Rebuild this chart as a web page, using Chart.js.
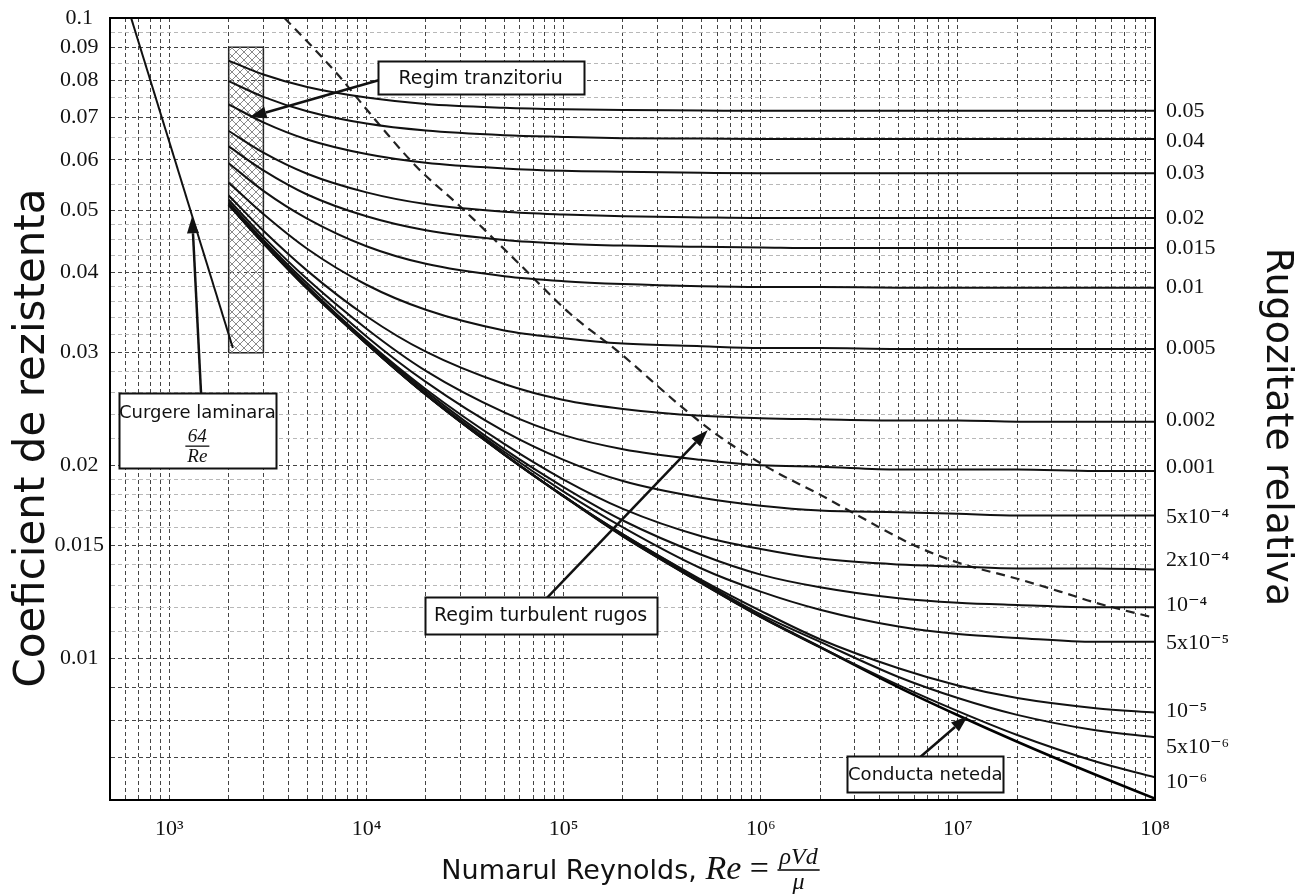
<!DOCTYPE html>
<html>
<head>
<meta charset="utf-8">
<title>Diagrama Moody</title>
<script src="https://cdn.jsdelivr.net/npm/chart.js@4.4.1/dist/chart.umd.min.js"></script>
<style>
  html, body { margin: 0; padding: 0; background: #fff; }
  #wrap { position: relative; width: 1313px; height: 896px; }
</style>
</head>
<body>
<div id="wrap"><canvas id="moody"></canvas></div>
<script>
const reynolds = [2000, 3000, 5000, 1e4, 2e4, 5e4, 1e5, 2e5, 5e5, 1e6, 2e6, 5e6, 1e7, 2e7, 5e7, 1e8];

// friction factor, one array per relative roughness
const f_0_05     = [0.0858, 0.0816, 0.0780, 0.0751, 0.0734, 0.0724, 0.0720, 0.0718, 0.0717, 0.0716, 0.0716, 0.0716, 0.0716, 0.0716, 0.0716, 0.0716];
const f_0_04     = [0.0797, 0.0753, 0.0715, 0.0684, 0.0667, 0.0656, 0.0652, 0.0649, 0.0648, 0.0647, 0.0647, 0.0647, 0.0647, 0.0647, 0.0647, 0.0647];
const f_0_03     = [0.0733, 0.0687, 0.0646, 0.0613, 0.0594, 0.0582, 0.0577, 0.0575, 0.0573, 0.0572, 0.0572, 0.0572, 0.0572, 0.0572, 0.0572, 0.0572];
const f_0_02     = [0.0666, 0.0616, 0.0571, 0.0534, 0.0512, 0.0498, 0.0493, 0.0490, 0.0488, 0.0487, 0.0487, 0.0487, 0.0487, 0.0487, 0.0487, 0.0487];
const f_0_015    = [0.0630, 0.0578, 0.0530, 0.0490, 0.0466, 0.0450, 0.0444, 0.0441, 0.0439, 0.0438, 0.0437, 0.0437, 0.0437, 0.0437, 0.0437, 0.0437];
const f_0_01     = [0.0593, 0.0537, 0.0486, 0.0440, 0.0413, 0.0395, 0.0388, 0.0384, 0.0381, 0.0380, 0.0380, 0.0379, 0.0379, 0.0379, 0.0379, 0.0379];
const f_0_005    = [0.0553, 0.0494, 0.0436, 0.0383, 0.0350, 0.0325, 0.0316, 0.0310, 0.0307, 0.0305, 0.0305, 0.0304, 0.0304, 0.0304, 0.0304, 0.0304];
const f_0_002    = [0.0528, 0.0465, 0.0403, 0.0342, 0.0301, 0.0268, 0.0253, 0.0245, 0.0239, 0.0237, 0.0236, 0.0235, 0.0235, 0.0234, 0.0234, 0.0234];
const f_0_001    = [0.0520, 0.0455, 0.0391, 0.0327, 0.0281, 0.0242, 0.0223, 0.0212, 0.0204, 0.0200, 0.0199, 0.0197, 0.0197, 0.0197, 0.0196, 0.0196];
const f_0_0005   = [0.0515, 0.0450, 0.0385, 0.0318, 0.0270, 0.0226, 0.0204, 0.0189, 0.0178, 0.0173, 0.0170, 0.0169, 0.0168, 0.0167, 0.0167, 0.0167];
const f_0_0002   = [0.0513, 0.0447, 0.0381, 0.0313, 0.0263, 0.0216, 0.0190, 0.0171, 0.0155, 0.0148, 0.0143, 0.0140, 0.0139, 0.0138, 0.0138, 0.01375];
const f_0_0001   = [0.0512, 0.0446, 0.0380, 0.0312, 0.0261, 0.0212, 0.0185, 0.0164, 0.0145, 0.0135, 0.0129, 0.0124, 0.0122, 0.0121, 0.0120, 0.0120];
const f_0_00005  = [0.0511, 0.0446, 0.0379, 0.0311, 0.0259, 0.0210, 0.0182, 0.0160, 0.0138, 0.0127, 0.0119, 0.0112, 0.0109, 0.01075, 0.0106, 0.0106];
const f_0_00001  = [0.0511, 0.0445, 0.0379, 0.0310, 0.0258, 0.0208, 0.0179, 0.0156, 0.01325, 0.01185, 0.0107, 0.00964, 0.00906, 0.00866, 0.00835, 0.00822];
const f_0_000005 = [0.0511, 0.0445, 0.0379, 0.0310, 0.0258, 0.0208, 0.0179, 0.0156, 0.0132, 0.0117, 0.0106, 0.00934, 0.00866, 0.00815, 0.00771, 0.00752];
const f_0_000001 = [0.0511, 0.0445, 0.0378, 0.0310, 0.0258, 0.0208, 0.0179, 0.0155, 0.0131, 0.0116, 0.0104, 0.00907, 0.00826, 0.00758, 0.00689, 0.00651];
const f_smooth   = [0.0511, 0.0445, 0.0378, 0.0310, 0.0258, 0.0208, 0.0179, 0.0155, 0.0131, 0.0116, 0.0104, 0.00900, 0.00814, 0.00740, 0.00657, 0.00603];

// laminar flow line (64/Re)
const laminarRe = [640, 2100];
const laminarF = [0.100, 0.0305];

// dashed limit of the fully rough zone
const boundaryRe = [3840, 5300, 7300, 1e4, 1.8e4, 3e4, 6e4, 1.07e5, 1.92e5, 3.9e5, 5.8e5, 1.1e6, 2e6, 3e6, 6e6, 1e7, 2e7, 3.3e7, 5e7, 1e8];
const boundaryF = [0.100, 0.0902, 0.0810, 0.0720, 0.0585, 0.0507, 0.0412, 0.0346, 0.0300, 0.0248, 0.0225, 0.0198, 0.0180, 0.0168, 0.0150, 0.0141, 0.0133, 0.0127, 0.0122, 0.01155];

// hatched transition zone
const transitionRe = [2000, 3000];
const transitionF = [0.03, 0.09];

// axis tick labels
const xTickValues = [1e3, 1e4, 1e5, 1e6, 1e7, 1e8];
const xTickLabels = ['10³', '10⁴', '10⁵', '10⁶', '10⁷', '10⁸'];
const yTickValues = [0.1, 0.09, 0.08, 0.07, 0.06, 0.05, 0.04, 0.03, 0.02, 0.015, 0.01];
const yTickLabels = ['0.1', '0.09', '0.08', '0.07', '0.06', '0.05', '0.04', '0.03', '0.02', '0.015', '0.01'];
const yDarkGrid = [0.009, 0.008, 0.007];
const yLightGrid = [0.095, 0.085, 0.075, 0.065, 0.055, 0.0475, 0.045, 0.0425, 0.038, 0.036, 0.034, 0.032,
                    0.028, 0.026, 0.024, 0.022, 0.019, 0.018, 0.017, 0.016, 0.014, 0.013, 0.012, 0.011];

// roughness labels on the right, and the height they sit at
const roughLabels = ['0.05', '0.04', '0.03', '0.02', '0.015', '0.01', '0.005', '0.002', '0.001',
                     '5x10⁻⁴', '2x10⁻⁴', '10⁻⁴', '5x10⁻⁵', '10⁻⁵', '5x10⁻⁶', '10⁻⁶'];
const roughLabelAt = [0.0716, 0.0643, 0.0573, 0.0487, 0.0437, 0.0379, 0.0305, 0.0235, 0.0199,
                      0.0166, 0.0142, 0.0121, 0.01055, 0.00826, 0.00726, 0.0064];

const SANS = '"Comic Sans MS", "DejaVu Sans", sans-serif';
const SERIF = '"Liberation Serif", "DejaVu Serif", serif';

// x grid at every 1..9 x 10^n inside the range
const xGrid = [];
for (let p = 2; p <= 8; p++) {
  for (let m = 1; m <= 9; m++) {
    const v = m * Math.pow(10, p);
    if (v >= 500 && v <= 1e8) xGrid.push(v);
  }
}
const yGrid = yTickValues.concat(yDarkGrid, yLightGrid);

function hatch() {
  const c = document.createElement('canvas');
  c.width = 8; c.height = 8;
  const g = c.getContext('2d');
  g.strokeStyle = '#8a8a8a';
  g.lineWidth = 1;
  g.beginPath();
  g.moveTo(0, 0); g.lineTo(8, 8);
  g.moveTo(8, 0); g.lineTo(0, 8);
  g.stroke();
  return g.createPattern(c, 'repeat');
}

const curveArrays = [f_0_05, f_0_04, f_0_03, f_0_02, f_0_015, f_0_01, f_0_005, f_0_002, f_0_001,
                     f_0_0005, f_0_0002, f_0_0001, f_0_00005, f_0_00001, f_0_000005, f_0_000001];

const datasets = curveArrays.map((vals, i) => ({
  label: roughLabels[i],
  data: reynolds.map((re, j) => ({ x: re, y: vals[j] })),
  borderColor: '#111',
  borderWidth: 2,
  cubicInterpolationMode: 'monotone',
  pointRadius: 0,
  fill: false
}));

datasets.push({
  label: 'conducta neteda',
  data: reynolds.map((re, j) => ({ x: re, y: f_smooth[j] })),
  borderColor: '#000', borderWidth: 2.6, cubicInterpolationMode: 'monotone', pointRadius: 0, fill: false
});
datasets.push({
  label: 'laminar',
  data: laminarRe.map((re, j) => ({ x: re, y: laminarF[j] })),
  borderColor: '#111', borderWidth: 2, pointRadius: 0, fill: false
});
datasets.push({
  label: 'limita',
  data: boundaryRe.map((re, j) => ({ x: re, y: boundaryF[j] })),
  borderColor: '#222', borderWidth: 2.2, borderDash: [9, 6], cubicInterpolationMode: 'monotone', pointRadius: 0, fill: false
});
datasets.push({
  label: 'zona tranzitorie',
  data: transitionRe.map(re => ({ x: re, y: transitionF[1] })),
  borderWidth: 0, pointRadius: 0,
  backgroundColor: hatch(),
  fill: { value: transitionF[0] }
});
datasets.push({
  label: 'contur',
  data: [
    { x: transitionRe[0], y: transitionF[0] }, { x: transitionRe[0], y: transitionF[1] },
    { x: transitionRe[1], y: transitionF[1] }, { x: transitionRe[1], y: transitionF[0] },
    { x: transitionRe[0], y: transitionF[0] }
  ],
  borderColor: '#222', borderWidth: 1.5, pointRadius: 0, fill: false
});

// text boxes with arrows (positions in data units)
const notes = [
  { text: 'Regim tranzitoriu', at: [37900, 0.0806], w: 206, h: 33, size: 19, tail: [12500, 0.0805], tip: [2550, 0.0700] },
  { text: 'Regim turbulent rugos', at: [76400, 0.01167], w: 232, h: 37, size: 19, tail: [80100, 0.0123], tip: [538000, 0.0227] },
  { text: 'Conducta neteda', at: [6.84e6, 0.00658], w: 156, h: 36, size: 18, tail: [6.19e6, 0.00693], tip: [1.124e7, 0.00812] },
  { text: 'Curgere laminara', at: [1387, 0.0227], w: 157, h: 75, size: 18, tail: [1454, 0.0253], tip: [1305, 0.0490], fraction: ['64', 'Re'] }
];

const notesPlugin = {
  id: 'notes',
  afterDatasetsDraw(chart) {
    const { ctx, scales: { x, y } } = chart;
    const P = ([re, f]) => [x.getPixelForValue(re), y.getPixelForValue(f)];
    ctx.save();
    ctx.strokeStyle = '#111';
    ctx.fillStyle = '#111';
    notes.forEach(n => {
      const [x0, y0] = P(n.tail), [x1, y1] = P(n.tip);
      const a = Math.atan2(y1 - y0, x1 - x0);
      const hl = 17, hw = 6;
      const bx = x1 - hl * Math.cos(a), by = y1 - hl * Math.sin(a);
      ctx.lineWidth = 2.5;
      ctx.beginPath(); ctx.moveTo(x0, y0); ctx.lineTo(bx, by); ctx.stroke();
      ctx.beginPath();
      ctx.moveTo(x1, y1);
      ctx.lineTo(bx + hw * Math.sin(a), by - hw * Math.cos(a));
      ctx.lineTo(bx - hw * Math.sin(a), by + hw * Math.cos(a));
      ctx.closePath();
      ctx.fill();
    });
    notes.forEach(n => {
      const [cx, cy] = P(n.at);
      const l = Math.round(cx - n.w / 2) + 0.5, t = Math.round(cy - n.h / 2) + 0.5;
      ctx.fillStyle = '#fff';
      ctx.fillRect(l, t, n.w, n.h);
      ctx.lineWidth = 2;
      ctx.strokeStyle = '#111';
      ctx.strokeRect(l, t, n.w, n.h);
      ctx.fillStyle = '#111';
      ctx.textAlign = 'center';
      ctx.font = n.size + 'px ' + SANS;
      if (n.fraction) {
        ctx.textBaseline = 'alphabetic';
        ctx.fillText(n.text, cx, cy - 12);
        ctx.font = 'italic 19px ' + SERIF;
        ctx.fillText(n.fraction[0], cx, cy + 12);
        ctx.fillText(n.fraction[1], cx, cy + 32);
        ctx.lineWidth = 1.3;
        ctx.beginPath(); ctx.moveTo(cx - 12, cy + 16); ctx.lineTo(cx + 12, cy + 16); ctx.stroke();
      } else {
        ctx.textBaseline = 'middle';
        ctx.fillText(n.text, cx, cy + 1);
      }
    });
    ctx.restore();
  }
};

const framePlugin = {
  id: 'frame',
  afterDraw(chart) {
    const { ctx, chartArea: a } = chart;
    const midY = (a.top + a.bottom) / 2;
    ctx.save();
    ctx.lineWidth = 2;
    ctx.strokeStyle = '#000';
    ctx.strokeRect(a.left, a.top, a.right - a.left, a.bottom - a.top);
    ctx.fillStyle = '#111';
    ctx.textAlign = 'center';
    ctx.textBaseline = 'alphabetic';

    ctx.save();
    ctx.translate(a.left - 66, midY + 29);
    ctx.rotate(-Math.PI / 2);
    ctx.font = '42px ' + SANS;
    ctx.fillText('Coeficient de rezistenta', 0, 0);
    ctx.restore();

    ctx.save();
    ctx.translate(a.right + 112, midY + 18);
    ctx.rotate(Math.PI / 2);
    ctx.font = '38px ' + SANS;
    ctx.fillText('Rugozitate relativa', 0, 0);
    ctx.restore();

    // bottom title with the fraction rho V d / mu
    const parts = [
      { t: 'Numarul Reynolds, ', f: '27px ' + SANS },
      { t: 'Re', f: 'italic 34px ' + SERIF },
      { t: ' = ', f: '34px ' + SERIF }
    ];
    let total = 0;
    parts.forEach(p => { ctx.font = p.f; p.w = ctx.measureText(p.t).width; total += p.w; });
    ctx.font = 'italic 24px ' + SERIF;
    const fw = ctx.measureText('ρVd').width + 4;
    total += fw;
    let cx = (a.left + a.right) / 2 - 2 - total / 2;
    const base = a.bottom + 79;
    ctx.textAlign = 'left';
    parts.forEach(p => { ctx.font = p.f; ctx.fillText(p.t, cx, base); cx += p.w; });
    ctx.font = 'italic 24px ' + SERIF;
    ctx.textAlign = 'center';
    ctx.fillText('ρVd', cx + fw / 2, a.bottom + 64);
    ctx.fillText('μ', cx + fw / 2, a.bottom + 89);
    ctx.lineWidth = 1.4;
    ctx.beginPath(); ctx.moveTo(cx, a.bottom + 70); ctx.lineTo(cx + fw, a.bottom + 70); ctx.stroke();
    ctx.restore();
  }
};

const tickFont = { family: SERIF, size: 22 };

new Chart(document.getElementById('moody'), {
  type: 'line',
  data: { datasets: datasets },
  options: {
    responsive: true,
    maintainAspectRatio: false,
    animation: false,
    events: [],
    layout: { padding: { top: 18, left: 0, right: 0, bottom: 0 } },
    plugins: { legend: { display: false }, tooltip: { enabled: false } },
    scales: {
      x: {
        type: 'logarithmic',
        min: 500, max: 1e8,
        afterBuildTicks: s => { s.ticks = xGrid.map(v => ({ value: v })); },
        afterFit: s => { s.height = 96; s.paddingLeft = 0; s.paddingRight = 0; },
        ticks: {
          autoSkip: false, maxRotation: 0, minRotation: 0, padding: 16,
          color: '#111', font: tickFont,
          callback: v => { const k = xTickValues.indexOf(v); return k < 0 ? '' : xTickLabels[k]; }
        },
        grid: { color: '#444', lineWidth: 1, drawTicks: false },
        border: { display: true, color: '#000', width: 2, dash: [4, 3] }
      },
      y: {
        type: 'logarithmic',
        position: 'left',
        min: 0.006, max: 0.1,
        afterBuildTicks: s => { s.ticks = yGrid.map(v => ({ value: v })); },
        afterFit: s => { s.width = 110; s.paddingTop = 0; s.paddingBottom = 0; },
        ticks: {
          autoSkip: false, crossAlign: 'center', padding: 6,
          color: '#111', font: tickFont,
          callback: v => { const k = yTickValues.indexOf(v); return k < 0 ? '' : yTickLabels[k]; }
        },
        grid: {
          color: c => (c.tick && yLightGrid.indexOf(c.tick.value) >= 0) ? '#b8b8b8' : '#444',
          lineWidth: 1, drawTicks: false
        },
        border: { display: true, color: '#000', width: 2, dash: [4, 3] }
      },
      y2: {
        type: 'logarithmic',
        position: 'right',
        min: 0.006, max: 0.1,
        afterBuildTicks: s => { s.ticks = roughLabelAt.map(v => ({ value: v })); },
        afterFit: s => { s.width = 158; s.paddingTop = 0; s.paddingBottom = 0; },
        ticks: {
          autoSkip: false, padding: 11,
          color: '#111', font: tickFont,
          callback: v => roughLabels[roughLabelAt.indexOf(v)]
        },
        grid: { drawOnChartArea: false, drawTicks: false },
        border: { display: true, color: '#000', width: 2 }
      }
    }
  },
  plugins: [notesPlugin, framePlugin]
});
</script>
</body>
</html>
